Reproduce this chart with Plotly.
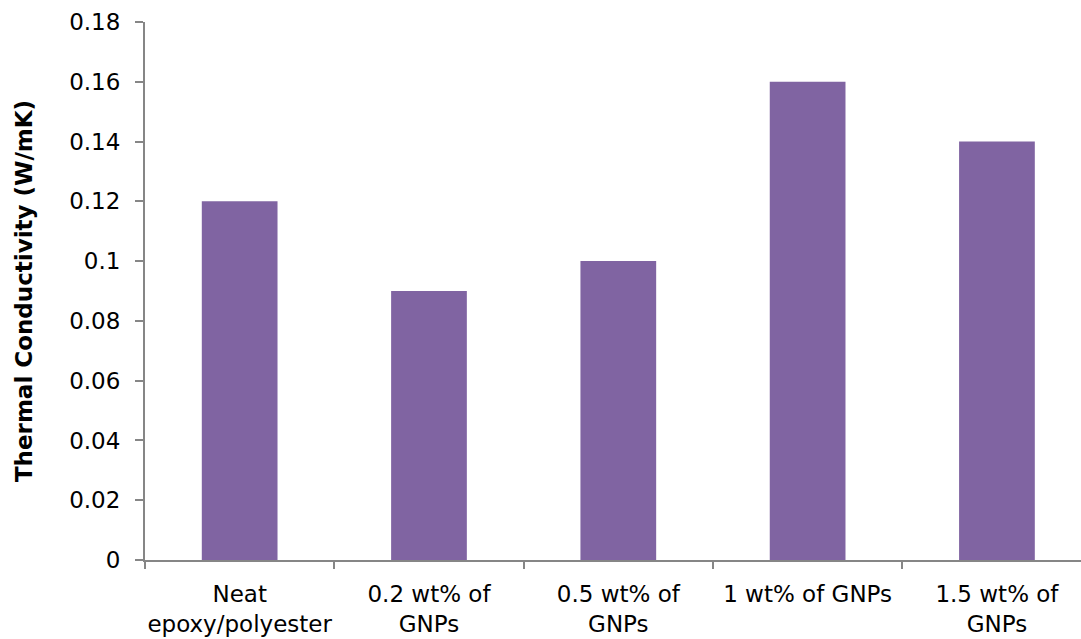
import plotly.graph_objects as go

# Thermal conductivity of neat resin and GNP-filled composites
categories = [
    "Neat<br>epoxy/polyester",
    "0.2 wt% of<br>GNPs",
    "0.5 wt% of<br>GNPs",
    "1 wt% of GNPs",
    "1.5 wt% of<br>GNPs",
]
conductivity = [0.12, 0.09, 0.10, 0.16, 0.14]
y_ticks = [0, 0.02, 0.04, 0.06, 0.08, 0.1, 0.12, 0.14, 0.16, 0.18]
y_tick_text = ["0", "0.02", "0.04", "0.06", "0.08", "0.1", "0.12", "0.14", "0.16", "0.18"]

AXIS_GREY = "#868686"
FONT = "DejaVu Sans"
SIZE = 23

fig = go.Figure(
    go.Bar(
        x=categories,
        y=conductivity,
        marker=dict(color="#8064A2", line=dict(width=0)),
        hoverinfo="x+y",
    )
)

fig.update_layout(
    width=1081,
    height=639,
    margin=dict(l=145, r=0, t=22, b=79),
    paper_bgcolor="white",
    plot_bgcolor="white",
    bargap=0.6,
    showlegend=False,
    font=dict(family=FONT, size=SIZE, color="black"),
)

fig.update_xaxes(
    type="category",
    range=[-0.5, 4.444],
    tickson="boundaries",
    tickangle=0,
    automargin=False,
    ticks="outside",
    ticklen=7,
    tickwidth=1.5,
    tickcolor=AXIS_GREY,
    showline=True,
    linecolor=AXIS_GREY,
    linewidth=2,
    showgrid=False,
    zeroline=False,
    ticklabelstandoff=12,
    tickfont=dict(family=FONT, size=SIZE, color="black"),
)

fig.update_yaxes(
    range=[0, 0.18],
    automargin=False,
    tickmode="array",
    tickvals=y_ticks,
    ticktext=y_tick_text,
    ticks="outside",
    ticklen=8,
    tickwidth=1.5,
    tickcolor=AXIS_GREY,
    showline=True,
    linecolor=AXIS_GREY,
    linewidth=2,
    showgrid=False,
    zeroline=False,
    ticklabelstandoff=10,
    tickfont=dict(family=FONT, size=SIZE, color="black"),
    title=dict(
        text="<b>Thermal Conductivity (W/mK)</b>",
        font=dict(family=FONT, size=SIZE, color="black"),
        standoff=30,
    ),
)

fig.write_html("out.html")
